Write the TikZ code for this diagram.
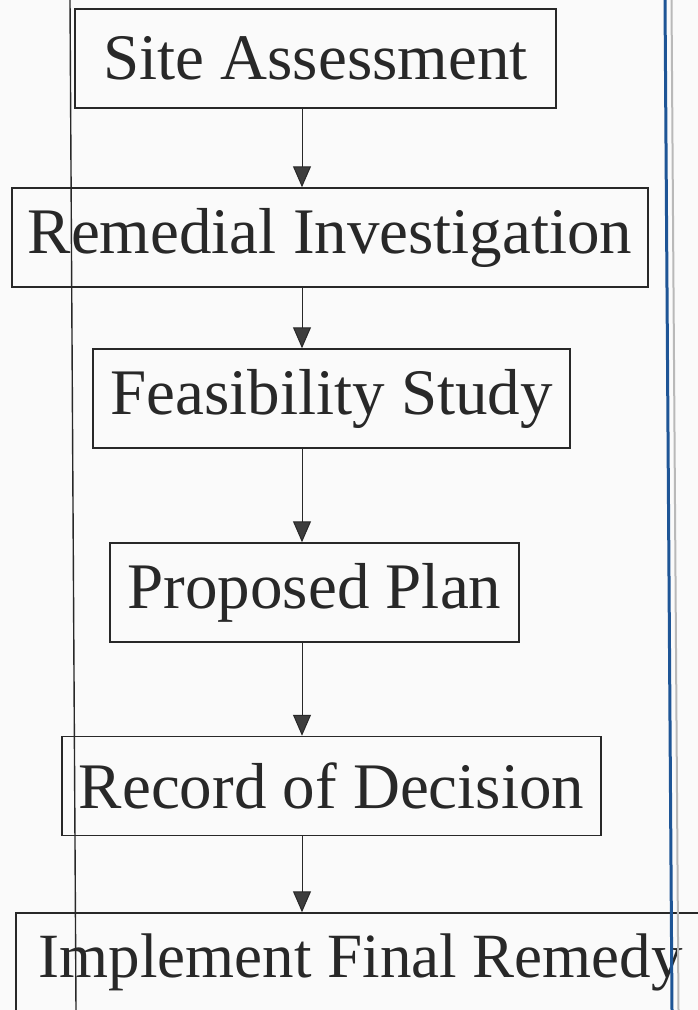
\documentclass[tikz,border=0pt]{standalone}
\usepackage{fontspec}
\setmainfont{Liberation Serif}
\usetikzlibrary{arrows.meta}
\definecolor{paper}{RGB}{250,250,250}
\definecolor{ink}{RGB}{40,40,40}
\definecolor{edgeblue}{RGB}{30,85,150}
\begin{document}
\begin{tikzpicture}[x=1pt,y=-1pt,
  stage/.style={draw=ink,line width=1.5pt,text=ink,minimum height=99pt,
    inner xsep=0pt,font=\fontsize{65}{70}\selectfont},
  flow/.style={ink,line width=1pt,-{Triangle[width=18pt,length=21pt,fill=ink!90]}}]
  \fill[paper] (0,0) rectangle (698,1010);
  \useasboundingbox (0,0) rectangle (698,1010);
  \coordinate (axis) at (302,0);
  \node[stage,minimum width=481pt] (sa) at (315.5,58.5) {Site Assessment};
  \node[stage,minimum width=636pt] (ri) at (330,237.5) {Remedial Investigation};
  \node[stage,minimum width=477pt] (fs) at (331.5,398.5) {Feasibility Study};
  \node[stage,minimum width=409pt] (pp) at (314.5,592.5) {Proposed Plan};
  \node[stage,minimum width=539pt] (rod) at (331.5,786) {Record of Decision};
  \node[stage,minimum width=712pt,anchor=west,font=\fontsize{63}{70}\selectfont]
    (ifr) at (15,962.5) {Implement Final Remedy\kern22pt};
  \foreach \a/\b in {sa/ri,ri/fs,fs/pp,pp/rod,rod/ifr}
    \draw[flow] (\a.south -| axis) -- (\b.north -| axis);
  % page edges
  \draw[ink,line width=1.4pt] (70,0) -- (76,1010);
  \draw[edgeblue,line width=3pt] (665,0) -- (672,1010);
  \draw[gray!55,line width=2pt] (671.5,0) -- (678.5,1010);
\end{tikzpicture}
\end{document}
